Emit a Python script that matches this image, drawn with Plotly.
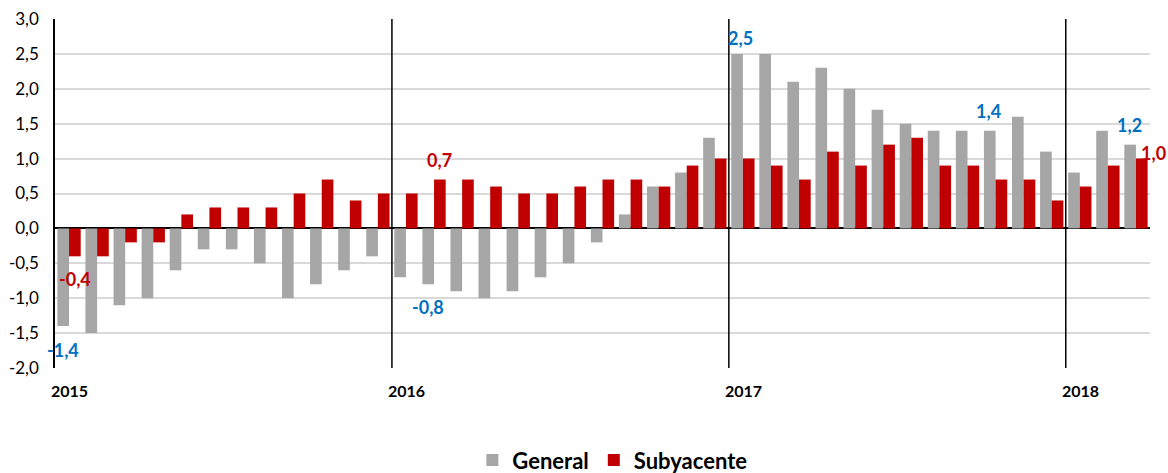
import plotly.graph_objects as go

# Months Jan 2015 .. Mar 2018
years = ["2015", "2016", "2017", "2018"]
months_per_year = [12, 12, 12, 3]

general = [-1.4, -1.5, -1.1, -1.0, -0.6, -0.3, -0.3, -0.5, -1.0, -0.8, -0.6, -0.4,
           -0.7, -0.8, -0.9, -1.0, -0.9, -0.7, -0.5, -0.2, 0.2, 0.6, 0.8, 1.3,
           2.5, 2.5, 2.1, 2.3, 2.0, 1.7, 1.5, 1.4, 1.4, 1.4, 1.6, 1.1,
           0.8, 1.4, 1.2]
subyacente = [-0.4, -0.4, -0.2, -0.2, 0.2, 0.3, 0.3, 0.3, 0.5, 0.7, 0.4, 0.5,
              0.5, 0.7, 0.7, 0.6, 0.5, 0.5, 0.6, 0.7, 0.7, 0.6, 0.9, 1.0,
              1.0, 0.9, 0.7, 1.1, 0.9, 1.2, 1.3, 0.9, 0.9, 0.7, 0.7, 0.4,
              0.6, 0.9, 1.0]

ytick_vals = [3.0, 2.5, 2.0, 1.5, 1.0, 0.5, 0.0, -0.5, -1.0, -1.5, -2.0]

GREY = "#A6A6A6"
RED = "#C00000"
BLUE = "#0070C0"
FONT = "Lato"

x = list(range(len(general)))

def fmt(v):
    return f"{v:.1f}".replace(".", ",")

fig = go.Figure()
fig.add_trace(go.Bar(x=x, y=general, name="General", marker_color=GREY,
                     marker_line_width=0))
fig.add_trace(go.Bar(x=x, y=subyacente, name="Subyacente", marker_color=RED,
                     marker_line_width=0))

# year boundaries
bounds = []
acc = 0
for n in months_per_year:
    bounds.append(acc - 0.5)
    acc += n

shapes = []
for b in bounds[1:]:
    shapes.append(dict(type="line", xref="x", yref="y", x0=b, x1=b, y0=-2, y1=3,
                       line=dict(color="black", width=1.5), layer="above"))

annotations = []
for yr, b in zip(years, bounds):
    annotations.append(dict(x=b, y=0, xref="x", yref="paper", text=f"<b>{yr}</b>",
                            showarrow=False, xanchor="left", yanchor="top",
                            xshift=-6, yshift=-11,
                            font=dict(family=FONT, size=16, color="black")))

# value labels: (series, index, color, xshift, yshift, xanchor)
labels = [
    (general, 0, BLUE, 0, -24, "center"),
    (subyacente, 0, RED, 0, -23, "center"),
    (general, 13, BLUE, 0, -23, "center"),
    (subyacente, 13, RED, 0, 20, "center"),
    (general, 24, BLUE, 3, 16, "center"),
    (general, 33, BLUE, -1, 20, "center"),
    (general, 38, BLUE, -1, 20, "center"),
    (subyacente, 38, RED, 3, 6, "left"),
]
for series, i, col, xs, ys, xa in labels:
    v = series[i]
    base_shift = -5.85 if series is general else 5.85
    annotations.append(dict(x=i, y=v, xref="x", yref="y", text=f"<b>{fmt(v)}</b>",
                            showarrow=False, xanchor=xa, yanchor="middle",
                            xshift=(xs + base_shift) if xa == "center" else xs,
                            yshift=ys,
                            font=dict(family=FONT, size=18, color=col)))

fig.update_layout(
    width=1168, height=473,
    margin=dict(l=55, r=18, t=19, b=105, autoexpand=False),
    paper_bgcolor="white", plot_bgcolor="white",
    barmode="group", bargap=0.17, bargroupgap=0,
    font=dict(family=FONT, size=16, color="black"),
    showlegend=True,
    legend=dict(orientation="h", x=0.509, y=-0.264, xanchor="center", yanchor="middle",
                font=dict(family=FONT, size=22, color="black", weight="bold"),
                itemsizing="constant", itemwidth=30, tracegroupgap=0),
    shapes=shapes,
    annotations=annotations,
)
fig.update_xaxes(range=[-0.5, len(general) - 0.5], showticklabels=False,
                 showgrid=False, zeroline=False, showline=False, fixedrange=True,
                 automargin=False)
fig.update_yaxes(range=[-2, 3], tickvals=ytick_vals,
                 ticktext=[fmt(v) for v in ytick_vals],
                 showgrid=True, gridcolor="#D9D9D9", gridwidth=1.5,
                 zeroline=True, zerolinecolor="black", zerolinewidth=2,
                 showline=True, linecolor="black", linewidth=1.5,
                 ticks="", ticklabelstandoff=11, automargin=False,
                 tickfont=dict(family=FONT, size=17, color="black"))

fig.write_html("out.html", config={"displayModeBar": False},
               post_script="document.body.style.margin='0';document.body.style.padding='0';")
